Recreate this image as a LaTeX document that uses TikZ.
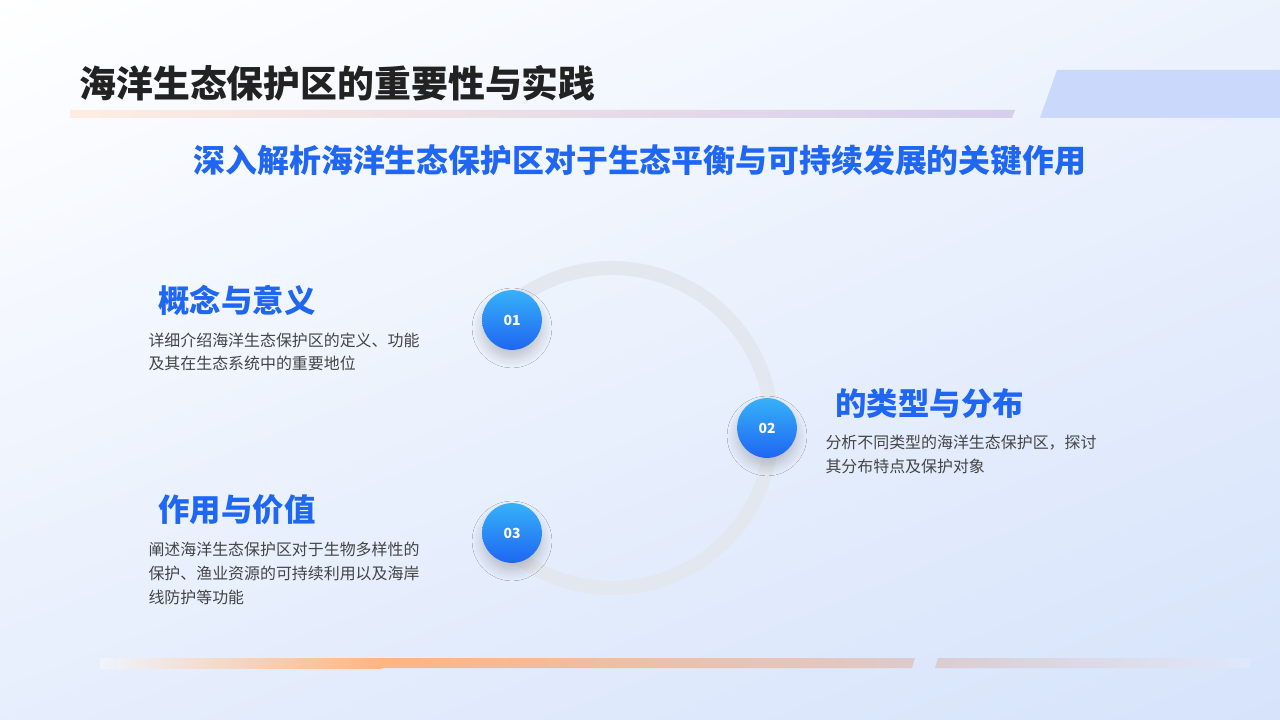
\documentclass[tikz,border=0pt]{standalone}
\usepackage{fontspec}
\setmainfont{Noto Sans CJK SC}
\usetikzlibrary{shadows.blur,shadings}
\definecolor{mainblue}{HTML}{1F66F2}
\definecolor{darktext}{HTML}{222222}
\definecolor{desctext}{HTML}{444444}
\definecolor{arcgray}{HTML}{E3E7EF}
\definecolor{bgblue}{HTML}{D6E3FB}
\definecolor{barorange}{HTML}{FDB583}
\definecolor{barblue}{HTML}{C9D8FB}
\tikzset{
  heading/.style={anchor=west, text=mainblue, font=\fontsize{31.5}{36}\selectfont\bfseries},
  desc/.style={anchor=north west, text=desctext, align=left, font=\fontsize{16}{24}\selectfont},
  stepdot/.style={circle, minimum size=60, inner sep=0, top color=mainblue!60!cyan!85!white, bottom color=mainblue,
    text=white, font=\fontsize{14}{16}\selectfont\bfseries,
    blur shadow={shadow blur steps=12, shadow blur radius=10, shadow xshift=0, shadow yshift=-8, shadow opacity=20}}
}
\begin{document}
\begin{tikzpicture}[x=1bp,y=-1bp]
  \useasboundingbox (0,0) rectangle (1280,720);
  % background
  \shade[upper left=white, upper right=bgblue!45, lower left=bgblue!60, lower right=bgblue] (0,0) rectangle (1280,720);
  % title bar
  \node[anchor=west, text=darktext, font=\fontsize{37}{42}\selectfont\bfseries] (title) at (76,83) {海洋生态保护区的重要性与实践};
  \shade[left color=barorange!25, right color=barblue!80!violet!60] (70,110) -- (1015,110) -- (1012,118) -- (70,118) -- cycle;
  \fill[barblue] (1057,70) -- (1280,70) -- (1280,118) -- (1040,118) -- cycle;
  \node[text=mainblue, font=\fontsize{32}{36}\selectfont\bfseries] (subtitle) at (640,160) {深入解析海洋生态保护区对于生态平衡与可持续发展的关键作用};
  % arc
  \draw[arcgray, line width=14] (612,428) ++(135:160) arc[start angle=135, end angle=-135, radius=160];
  \node[stepdot] (s1) at (512,320) {01};
  \node[stepdot] (s2) at (767,428) {02};
  \node[stepdot] (s3) at (512,533) {03};
  % texts
  \node[heading] (h1) at (155,300) {概念与意义};
  \node[desc] (d1) at (145,329) {详细介绍海洋生态保护区的定义、功能\\及其在生态系统中的重要地位};
  \node[heading] (h2) at (832,404) {的类型与分布};
  \node[desc] (d2) at (822,432) {分析不同类型的海洋生态保护区，探讨\\其分布特点及保护对象};
  \node[heading] (h3) at (155,510) {作用与价值};
  \node[desc] (d3) at (145,539) {阐述海洋生态保护区对于生物多样性的\\保护、渔业资源的可持续利用以及海岸\\线防护等功能};
  % bottom bars
  \shade[left color=bgblue!40, right color=barorange] (100,658) rectangle (381,668);
  \shade[left color=barorange, right color=barorange!40!barblue] (380,658) -- (915,658) -- (912,668) -- (380,668) -- cycle;
  \shade[left color=barorange!35!barblue, right color=barblue!60] (938,658) -- (1250,658) -- (1250,668) -- (935,668) -- cycle;
\end{tikzpicture}
\end{document}
